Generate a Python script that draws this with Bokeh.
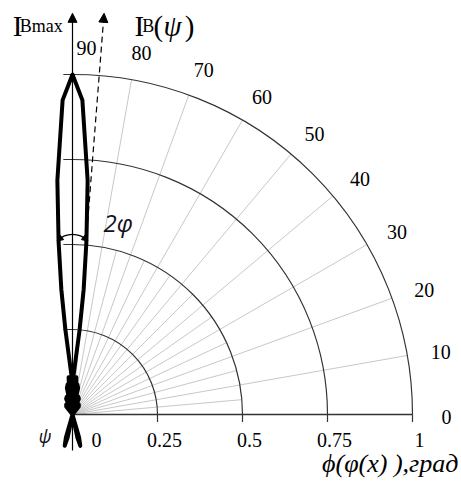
import numpy as np
from bokeh.plotting import figure
from bokeh.models import Arrow, NormalHead
from bokeh.core.properties import value
from bokeh.embed import file_html
from bokeh.resources import INLINE

# ---------------- data ----------------
grid_radii = [0.25, 0.5, 0.75, 1.0]
radial_tick_values = [0.0, 0.25, 0.5, 0.75, 1.0]
radial_tick_labels = ["0", "0.25", "0.5", "0.75", "1"]
angle_ticks = [0, 10, 20, 30, 40, 50, 60, 70, 80, 90]
spokes_major = [10, 20, 30, 40, 50, 60, 70, 80]
spokes_minor = [5, 15, 25, 35, 45, 55, 65, 75, 85]
minor_spoke_len = 0.5

# measured radiation pattern I_B(psi): angle (deg), relative intensity
pattern_deg = [40, 52, 58, 55, 62, 68, 72, 70, 75, 78, 81, 79, 82, 82, 84, 86, 85, 86,
               86.5, 88.5, 85.2, 84.9, 85.4, 86.3, 88.2, 90.0,
               91.8, 93.7, 94.6, 95.1, 94.8, 91.5, 93.5,
               94, 95, 94, 96, 98, 98, 101, 99, 102, 105, 110, 108, 112, 118, 125, 122, 128, 140,
               250, 254, 256, 258, 262, 278, 282, 284, 286, 290, 400]
pattern_r = [0.0, 0.03, 0.035, 0.02, 0.0, 0.05, 0.055, 0.03, 0.0, 0.08, 0.09, 0.05, 0.0, 0.07, 0.11, 0.09, 0.03, 0.0,
             0.06, 0.115, 0.25, 0.37, 0.51, 0.69, 0.925, 1.0,
             0.925, 0.69, 0.51, 0.37, 0.25, 0.115, 0.06,
             0.0, 0.03, 0.09, 0.11, 0.07, 0.0, 0.05, 0.09, 0.08, 0.0, 0.03, 0.055, 0.05, 0.0, 0.02, 0.035, 0.03, 0.0,
             0.0, 0.07, 0.095, 0.07, 0.0, 0.0, 0.07, 0.095, 0.07, 0.0, 0.0]
beam_axis_deg = 85.5      # direction of I_B(psi) arrow

# ---------------- figure ----------------
W, H = 460, 480
OX, OY, S = 72, 414, 340.0
p = figure(width=W, height=H,
           x_range=(-OX / S, (W - OX) / S), y_range=(-(H - OY) / S, OY / S),
           output_backend="svg", toolbar_location=None, min_border=0,
           x_axis_location=None, y_axis_location=None)
p.grid.visible = False
p.outline_line_color = None
p.background_fill_color = "white"

serif = value("Liberation Serif")

# spokes
a = np.radians(spokes_minor)
p.segment(x0=0, y0=0, x1=minor_spoke_len * np.cos(a), y1=minor_spoke_len * np.sin(a),
          line_color="#c8c8c8", line_width=1)
a = np.radians(spokes_major)
p.segment(x0=0, y0=0, x1=np.cos(a), y1=np.sin(a), line_color="#c8c8c8", line_width=1)

# arcs
p.arc(x=0, y=0, radius=grid_radii, start_angle=0, end_angle=np.pi / 2,
      line_color="#333333", line_width=1.2)
gr = np.array(grid_radii)
p.segment(x0=-0.027, y0=gr, x1=0, y1=gr, line_color="#333333", line_width=1.2)
p.segment(x0=gr, y0=0, x1=gr, y1=-0.022, line_color="#333333", line_width=1.2)
p.segment(x0=0, y0=0, x1=1, y1=0, line_color="#333333", line_width=1.3)

# vertical axis arrow
p.add_layout(Arrow(end=NormalHead(size=9, fill_color="black", line_color="black"),
                   x_start=0, y_start=-0.106, x_end=0, y_end=1.18,
                   line_color="black", line_width=1.2))
# dashed beam arrow
b = np.radians(beam_axis_deg)
r_end = 1.18 / np.sin(b)
p.add_layout(Arrow(end=NormalHead(size=9, fill_color="black", line_color="black"),
                   x_start=0.45 * np.cos(b), y_start=0.45 * np.sin(b),
                   x_end=r_end * np.cos(b), y_end=r_end * np.sin(b),
                   line_color="black", line_width=1.2, line_dash="6 4"))

# pattern
pa = np.radians(pattern_deg)
pr = np.array(pattern_r)
p.line(pr * np.cos(pa), pr * np.sin(pa), line_color="black", line_width=4,
       line_join="round", line_cap="round")

# 2phi arc
cy, rr = 0.468, 0.062
p.arc(x=0, y=cy, radius=rr, start_angle=np.radians(45), end_angle=np.radians(135),
      line_color="black", line_width=1.2)
for a0, a1 in [(120, 137), (60, 43)]:
    t0, t1 = np.radians(a0), np.radians(a1)
    p.add_layout(Arrow(end=NormalHead(size=6, fill_color="black", line_color="black"),
                       x_start=rr * np.cos(t0), y_start=cy + rr * np.sin(t0),
                       x_end=rr * np.cos(t1), y_end=cy + rr * np.sin(t1),
                       line_color="black", line_width=1.0))

# angle labels
th = np.radians(angle_ticks)
lx = 1.085 * np.cos(th) + np.where(np.array(angle_ticks) == 90, 9, 0) / S
ly = 1.085 * np.sin(th)
p.text(x=lx, y=ly, text=[str(v) for v in angle_ticks], text_font=serif,
       text_font_size="20px", text_align="center", text_baseline="middle",
       x_offset=5, y_offset=2, text_color="black")

# radial labels
rv = np.array(radial_tick_values)
rx = np.where(rv == 0, 17 / S, rv)
p.text(x=rx, y=-0.075, text=radial_tick_labels, text_font=serif,
       text_font_size="20px", text_align="center", text_baseline="middle",
       x_offset=7, text_color="black")

# titles
ty = 1.142
p.text(x=[-0.176], y=[ty], text=["I"], text_font=serif, text_font_size="29px",
       text_baseline="alphabetic", text_color="black")
p.text(x=[-0.155], y=[ty], text=["Bmax"], text_font=serif, text_font_size="18px",
       text_baseline="alphabetic", text_color="black")
p.text(x=[0.182], y=[ty], text=["I"], text_font=serif, text_font_size="29px",
       text_baseline="alphabetic", text_color="black")
p.text(x=[0.205], y=[ty], text=["B"], text_font=serif, text_font_size="18px",
       text_baseline="alphabetic", text_color="black")
p.text(x=[0.238], y=[ty], text=["("], text_font=serif, text_font_size="29px",
       text_baseline="alphabetic", text_color="black")
p.text(x=[0.268], y=[ty], text=["\u03c8"], text_font=serif, text_font_style="italic",
       text_font_size="29px", text_baseline="alphabetic", text_color="black")
p.text(x=[0.330], y=[ty], text=[")"], text_font=serif, text_font_size="29px",
       text_baseline="alphabetic", text_color="black")

p.text(x=[0.091], y=[0.564], text=["2\u03c6"], text_font=value("Open Sans"),
       text_font_style="italic", text_font_size="24px", text_baseline="alphabetic",
       text_color="#111122")
p.text(x=[-0.100], y=[-0.062], text=["\u03c8"], text_font=value("Open Sans"),
       text_font_style="italic", text_font_size="18px", text_baseline="alphabetic",
       text_color="#111122")

p.text(x=[1.135], y=[-0.144], text=["\u03d5(\u03c6(x) ),\u0433\u0440\u0430\u0434"],
       text_font=serif, text_font_style="italic", text_font_size="26px",
       text_align="right", text_baseline="middle", text_color="black")

open("out.html", "w").write(file_html(p, INLINE))
